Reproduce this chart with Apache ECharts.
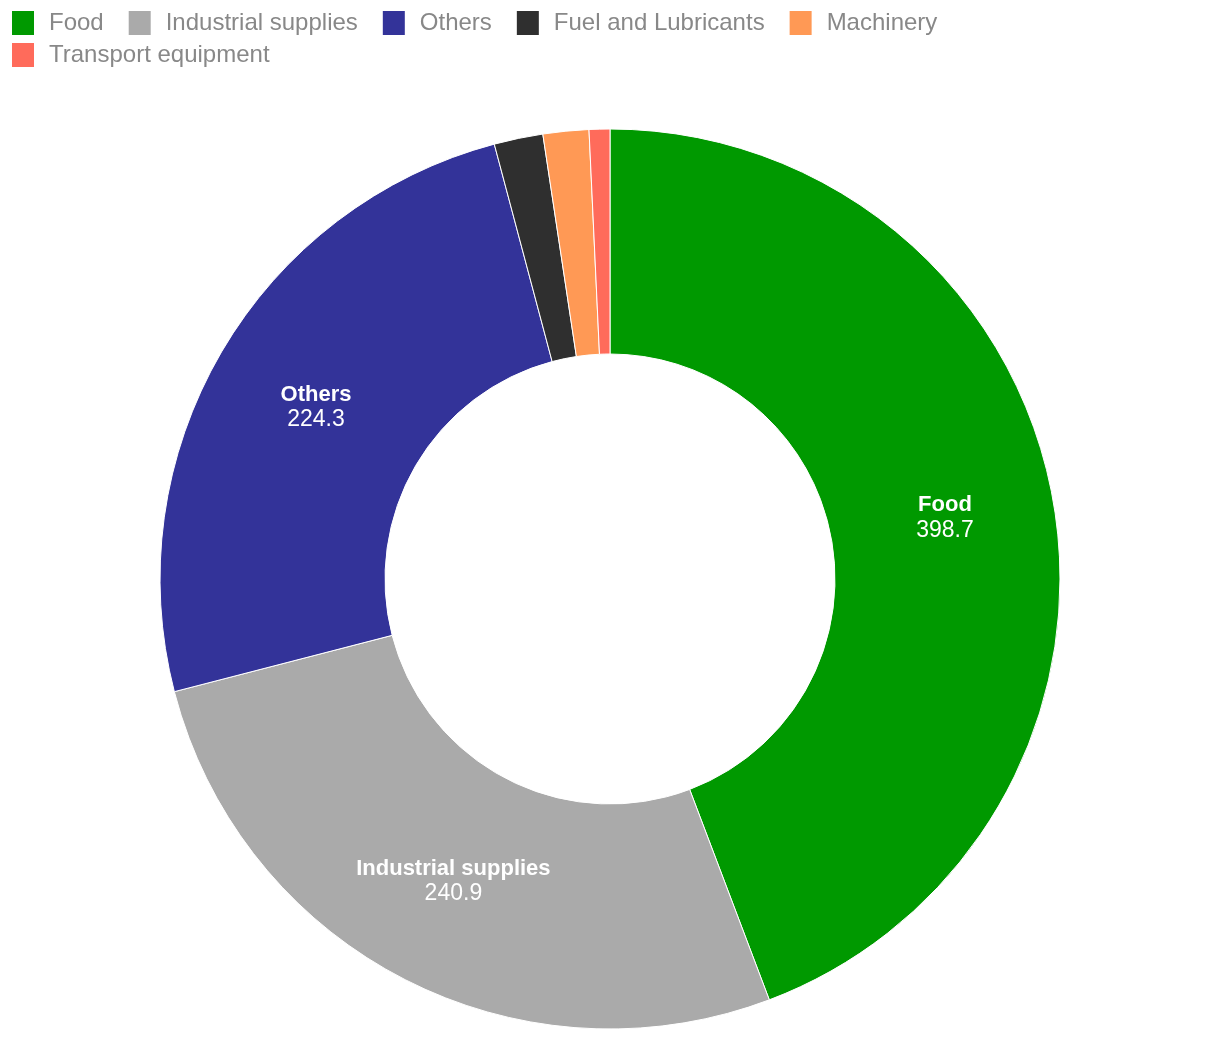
<!DOCTYPE html>
<html><head><meta charset="utf-8">
<script src="https://cdn.jsdelivr.net/npm/echarts@6/dist/echarts.min.js"></script>
<style>html,body{margin:0;padding:0;background:#fff}#c{width:1220px;height:1040px}</style>
</head><body><div id="c"></div>
<script>
const categories = ["Food", "Industrial supplies", "Others", "Fuel and Lubricants", "Machinery", "Transport equipment"];
const values = [398.7, 240.9, 224.3, 15.8, 14.8, 6.7];
const colors = ["#009900", "#aaaaaa", "#333399", "#2f2f2f", "#ff9955", "#ff6b5b"];

const FONT = 'Liberation Sans, Arial, sans-serif';
const legendBase = {
  left: 5, itemWidth: 24, itemHeight: 26, itemGap: 23, icon: 'rect',
  symbolKeepAspect: false,
  textStyle: { color: '#888', fontSize: 24, fontFamily: FONT, padding: [0, 0, 0, 9] }
};
const chart = echarts.init(document.getElementById('c'));
chart.setOption({
  animation: false,
  color: colors,
  legend: [
    Object.assign({}, legendBase, { top: 4, data: categories.slice(0, 5) }),
    Object.assign({}, legendBase, { top: 36, data: categories.slice(5) })
  ],
  series: [{
    type: 'pie',
    center: [610, 579],
    radius: [225, 450],
    startAngle: 90,
    clockwise: true,
    avoidLabelOverlap: false,
    itemStyle: { borderColor: '#fff', borderWidth: 1 },
    label: {
      show: true, position: 'inside',
      formatter: function (p) { return p.value > 50 ? '{n|' + p.name + '}\n{v|' + p.value + '}' : ''; },
      rich: {
        n: { color: '#fff', fontSize: 22, fontWeight: 'bold', fontFamily: FONT, lineHeight: 25 },
        v: { color: '#fff', fontSize: 23, fontFamily: FONT, lineHeight: 25 }
      }
    },
    labelLine: { show: false },
    emphasis: { disabled: true },
    data: categories.map((c, i) => ({ name: c, value: values[i] }))
  }]
});
</script></body></html>
